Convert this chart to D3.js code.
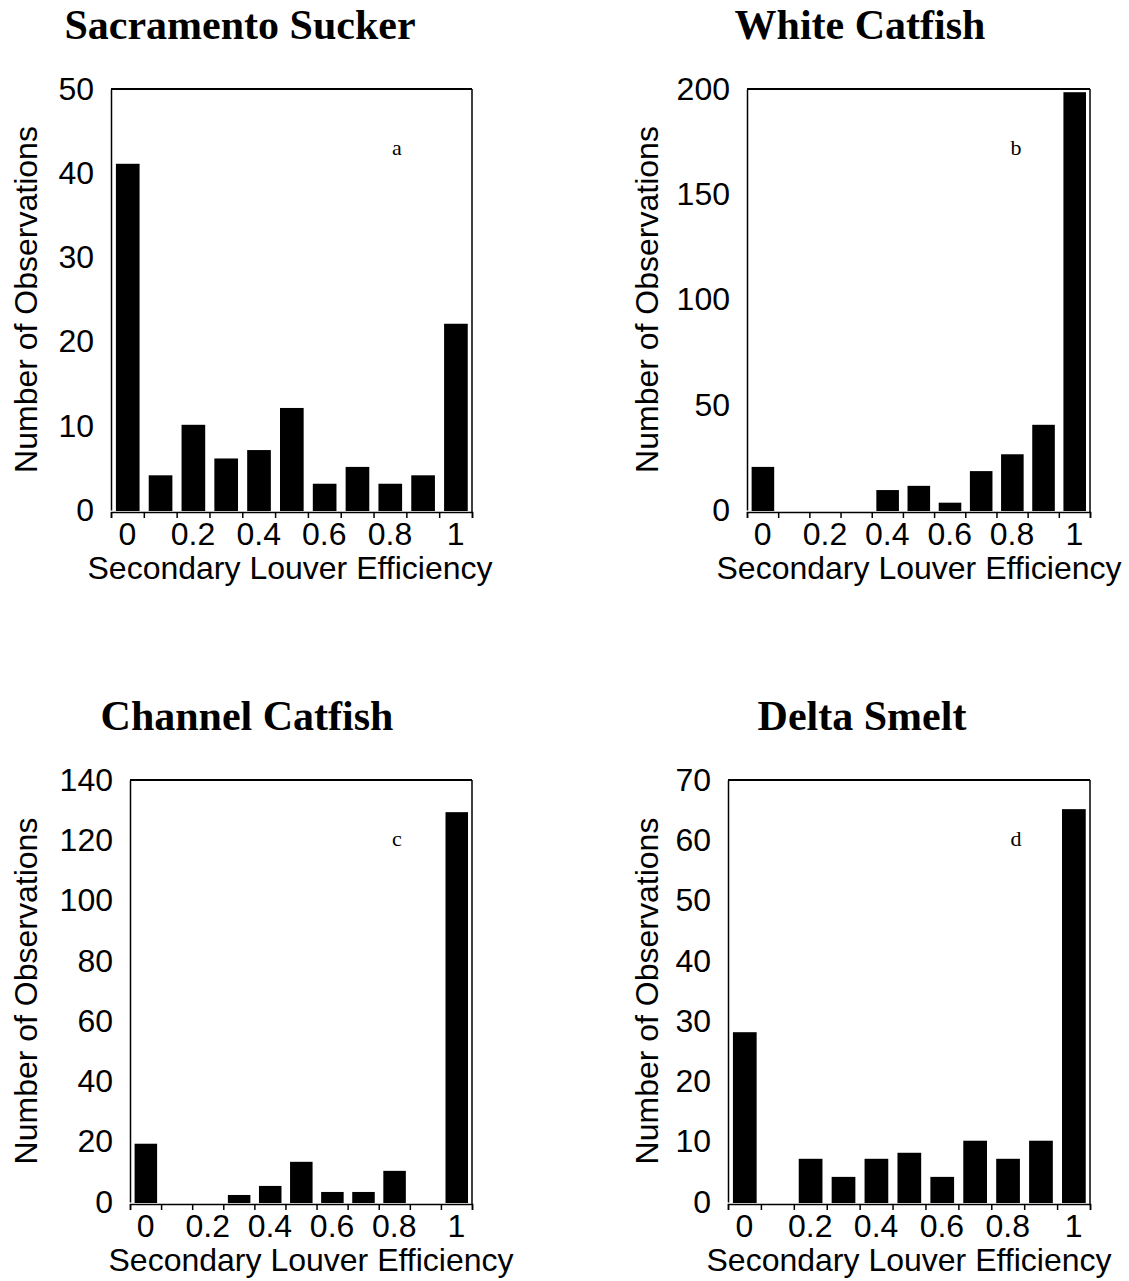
<!DOCTYPE html>
<html>
<head>
<meta charset="utf-8">
<script src="https://cdn.jsdelivr.net/npm/d3@7"></script>
<style>
  html, body { margin: 0; padding: 0; background: #fff; }
  svg { display: block; }
</style>
</head>
<body>
<svg id="chart" width="1129" height="1281"></svg>
<script>
// ---- data ----
const bins = ["0", "0.1", "0.2", "0.3", "0.4", "0.5", "0.6", "0.7", "0.8", "0.9", "1"];
const xTickLabels = ["0", "0.2", "0.4", "0.6", "0.8", "1"];
const panelTitles = ["Sacramento Sucker", "White Catfish", "Channel Catfish", "Delta Smelt"];
const panelLetters = ["a", "b", "c", "d"];
const sacramentoSucker = [41, 4, 10, 6, 7, 12, 3, 5, 3, 4, 22];
const whiteCatfish = [20, 0, 0, 0, 9, 11, 3, 18, 26, 40, 198];
const channelCatfish = [19, 0, 0, 2, 5, 13, 3, 3, 10, 0, 129];
const deltaSmelt = [28, 0, 7, 4, 7, 8, 4, 10, 7, 10, 65];
const yMaxes = [50, 200, 140, 70];
const yTickSteps = [10, 50, 20, 10];
const xLabel = "Secondary Louver Efficiency";
const yLabel = "Number of Observations";

const seriesList = [sacramentoSucker, whiteCatfish, channelCatfish, deltaSmelt];

// ---- layout ----
const frames = [
  { left: 111, right: 472, top: 89, bottom: 510, titleX: 240, titleY: 39, yLabX: 37, letterX: 397, xLabX: 290 },
  { left: 747, right: 1090, top: 89, bottom: 510, titleX: 860, titleY: 39, yLabX: 658, letterX: 1016, xLabX: 919 },
  { left: 130, right: 472, top: 780, bottom: 1202, titleX: 247, titleY: 730, yLabX: 37, letterX: 397, xLabX: 311 },
  { left: 728, right: 1090, top: 780, bottom: 1202, titleX: 862, titleY: 730, yLabX: 658, letterX: 1016, xLabX: 909 }
];

const svg = d3.select("#chart");
const sans = "'Liberation Sans', Arial, sans-serif";
const serif = "'Liberation Serif', 'Times New Roman', serif";

frames.forEach((f, i) => {
  const data = seriesList[i];
  const x = d3.scaleBand().domain(bins).range([f.left, f.right]).padding(0);
  const y = d3.scaleLinear().domain([0, yMaxes[i]]).range([f.bottom, f.top]);
  const g = svg.append("g");
  const bw = x.bandwidth();

  // title
  g.append("text")
    .attr("x", f.titleX).attr("y", f.titleY)
    .attr("text-anchor", "middle")
    .attr("font-family", serif).attr("font-weight", "bold").attr("font-size", 42)
    .text(panelTitles[i]);

  // bars (outlined, so empty bins show as a thin line)
  g.selectAll("rect.bar").data(data).join("rect")
    .attr("class", "bar")
    .attr("x", (d, j) => x(bins[j]) + bw * 0.18)
    .attr("width", bw * 0.66)
    .attr("y", d => y(d))
    .attr("height", d => y(0) - y(d))
    .attr("fill", "#000")
    .attr("stroke", "#000")
    .attr("stroke-width", 2);

  // frame: top and right
  g.append("line").attr("x1", f.left).attr("x2", f.right).attr("y1", f.top).attr("y2", f.top)
    .attr("stroke", "#000").attr("stroke-width", 2);
  g.append("line").attr("x1", f.right).attr("x2", f.right).attr("y1", f.top).attr("y2", f.bottom + 3)
    .attr("stroke", "#000").attr("stroke-width", 1.5);

  // y axis
  const yTicks = d3.range(0, yMaxes[i] + 0.001, yTickSteps[i]);
  const yAxis = d3.axisLeft(y).tickValues(yTicks).tickSize(0).tickPadding(17).tickFormat(d3.format("d"));
  const ya = g.append("g").attr("transform", `translate(${f.left},0)`).call(yAxis);
  ya.select(".domain").attr("stroke", "#000").attr("stroke-width", 1.5);
  ya.selectAll("text").attr("font-family", sans).attr("font-size", 32).attr("fill", "#000");

  // x axis: ticks at bin boundaries (axis line just under the bars)
  const boundaries = bins.map(b => x(b)).concat([f.right]);
  const xb = d3.scaleLinear().domain([f.left, f.right]).range([f.left, f.right]);
  const xAxis = d3.axisBottom(xb).tickValues(boundaries).tickSize(6).tickFormat("").tickSizeOuter(6);
  const xa = g.append("g").attr("transform", `translate(0,${f.bottom + 2})`).call(xAxis);
  xa.select(".domain").attr("stroke", "#000").attr("stroke-width", 1.5);
  xa.selectAll(".tick line").attr("stroke", "#000").attr("stroke-width", 1.5);

  // x tick labels at centers of even bins
  g.selectAll("text.xl").data(xTickLabels).join("text")
    .attr("class", "xl")
    .attr("x", d => x(d) + bw / 2)
    .attr("y", f.bottom + 35)
    .attr("text-anchor", "middle")
    .attr("font-family", sans).attr("font-size", 32)
    .text(d => d);

  // x axis title
  g.append("text")
    .attr("x", f.xLabX).attr("y", f.bottom + 69)
    .attr("text-anchor", "middle")
    .attr("font-family", sans).attr("font-size", 32)
    .text(xLabel);

  // y axis title
  g.append("text")
    .attr("transform", `translate(${f.yLabX},${(f.top + f.bottom) / 2}) rotate(-90)`)
    .attr("text-anchor", "middle")
    .attr("font-family", sans).attr("font-size", 32)
    .text(yLabel);

  // panel letter
  g.append("text")
    .attr("x", f.letterX).attr("y", f.top + 66)
    .attr("text-anchor", "middle")
    .attr("font-family", serif).attr("font-size", 22)
    .text(panelLetters[i]);
});
</script>
</body>
</html>
